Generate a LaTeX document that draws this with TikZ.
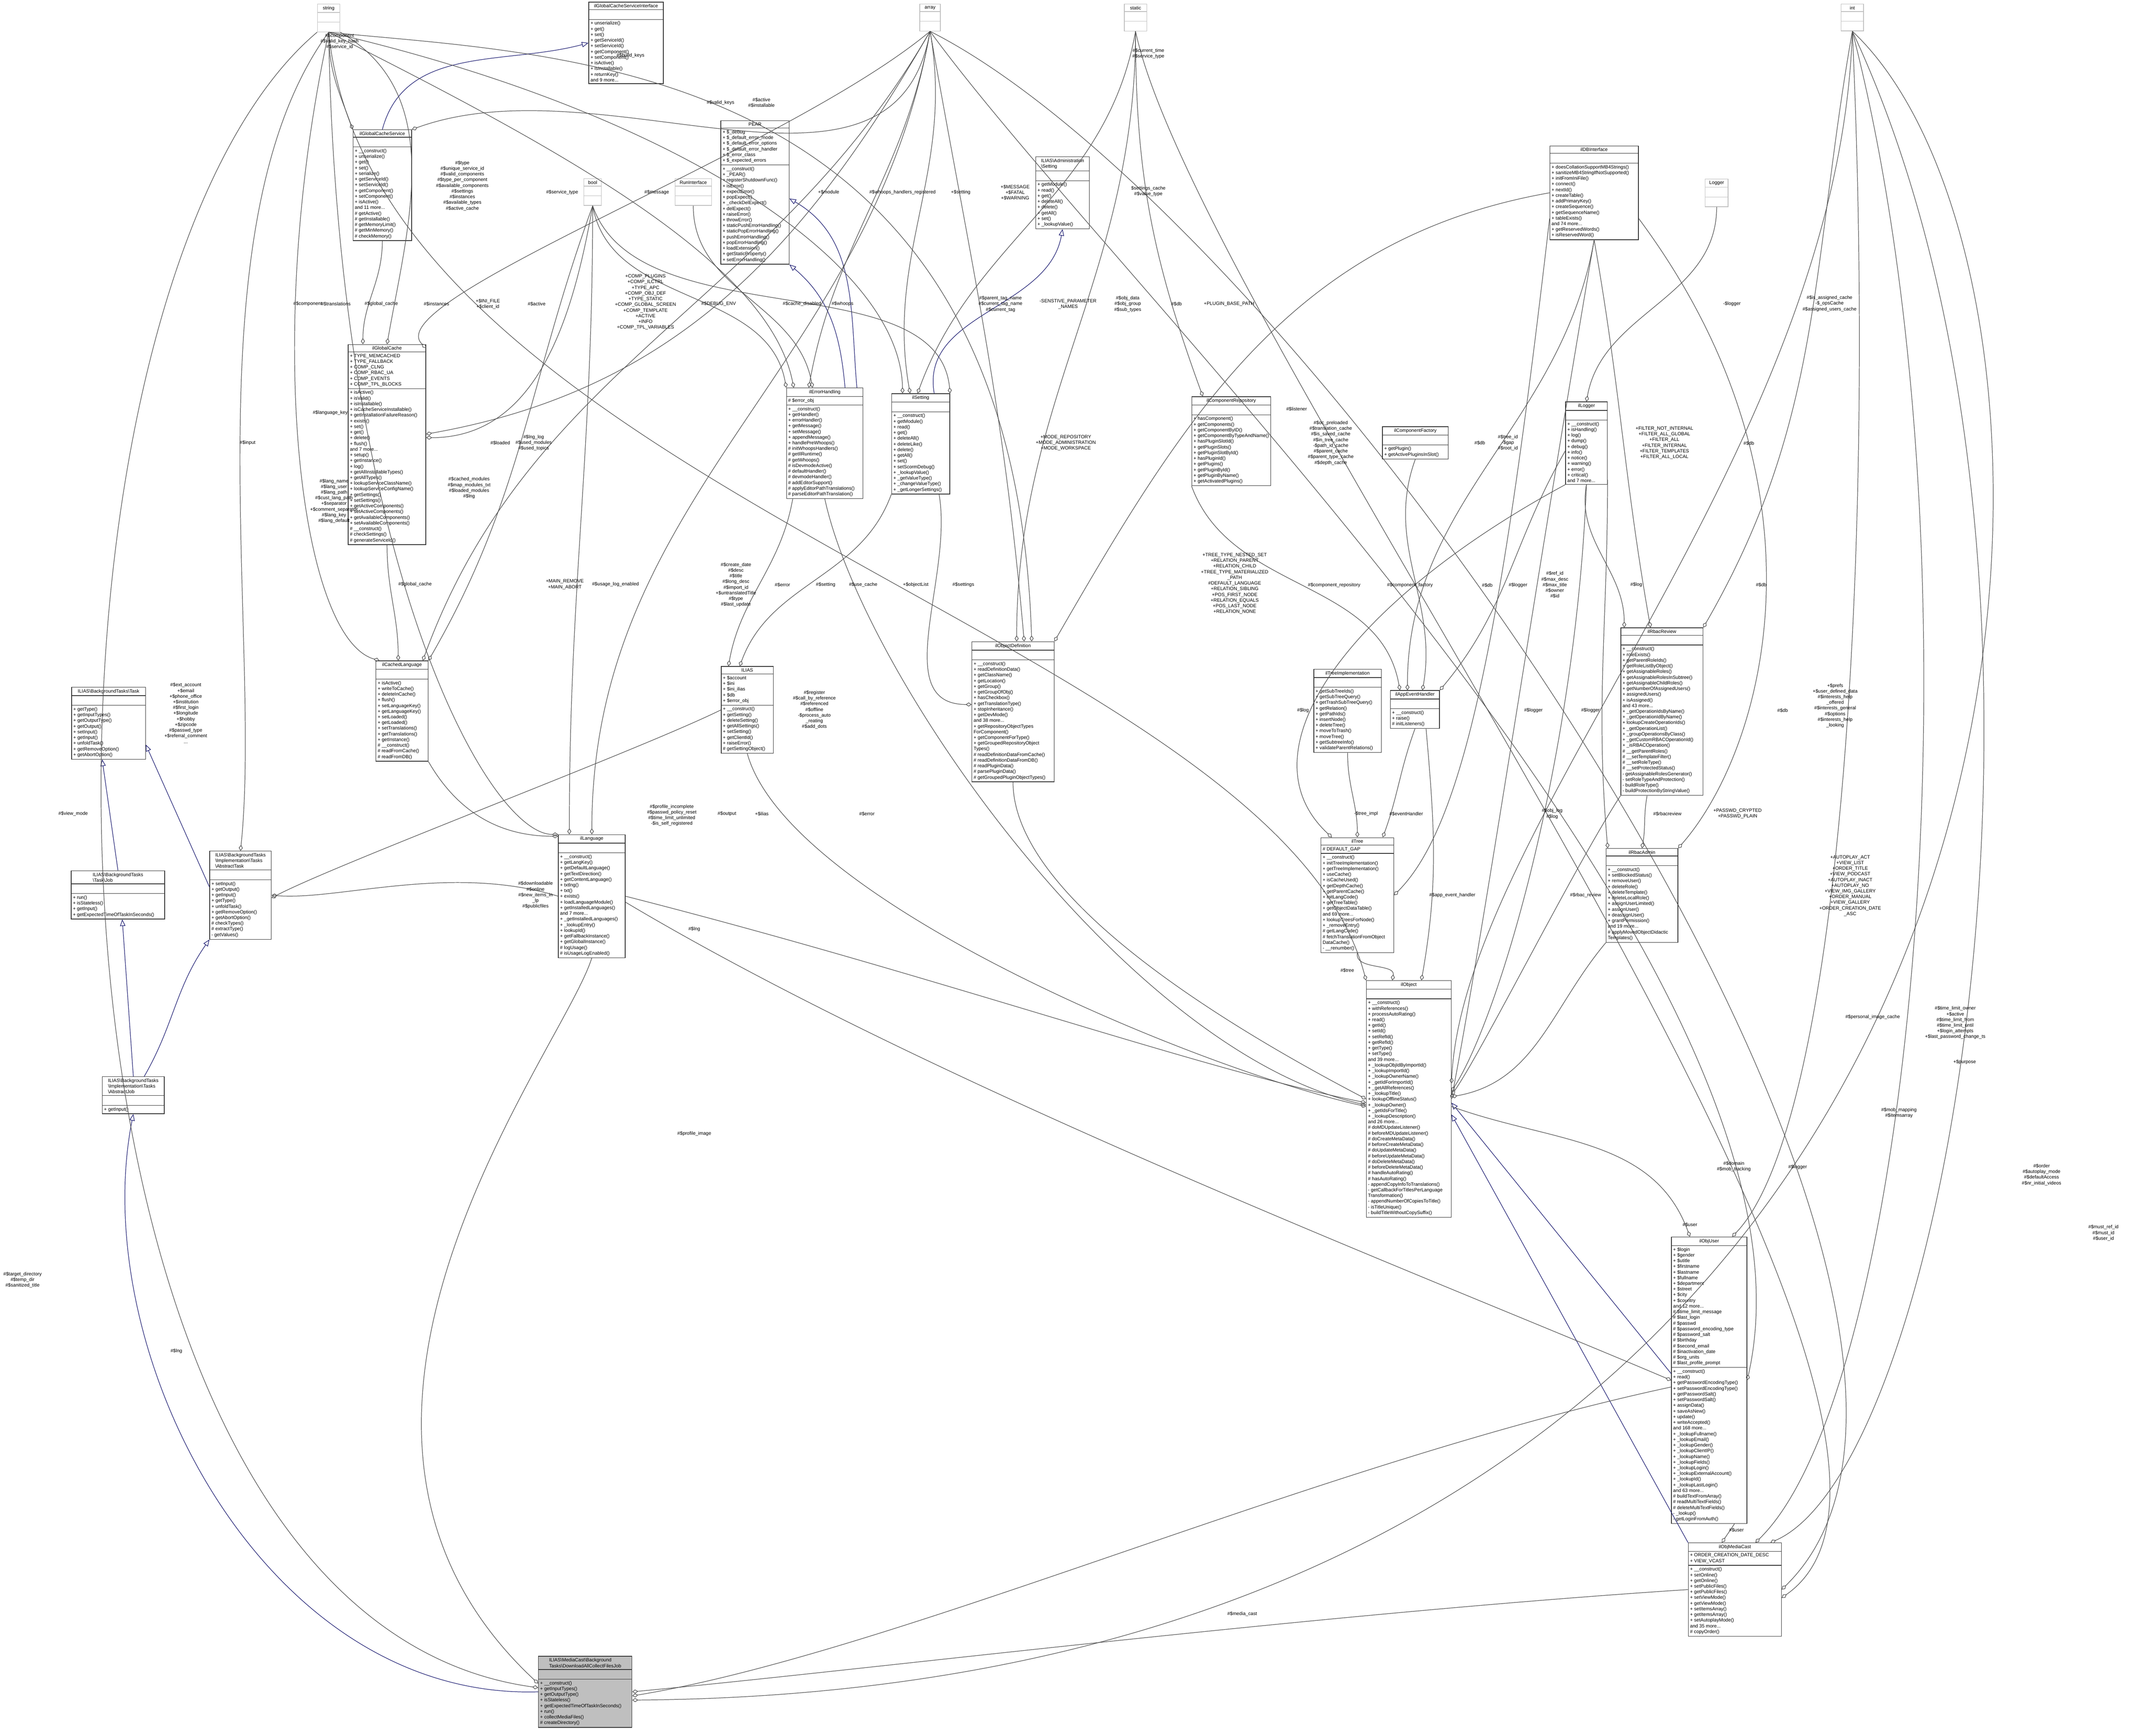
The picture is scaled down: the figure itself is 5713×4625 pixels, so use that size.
\documentclass[tikz,border=0pt]{standalone}
\usepackage{fontspec}
\setmainfont{Liberation Sans}
\usetikzlibrary{shapes.multipart,arrows.meta,calc}
\newcommand\fsz{\fontsize{3.6}{4.3}\selectfont}
\newcommand\bs{\textbackslash}
\begin{document}
\begin{tikzpicture}[x=0.01cm,y=-0.01cm,
  cls/.style={draw=black!80, line width=0.45pt, rectangle split, rectangle split parts=3,
    rectangle split part align={center,left,left}, align=left, font=\fsz,
    inner sep=1.3pt, anchor=north west, fill=white, minimum width=#1*0.01cm},
  ext/.style={cls=#1, draw=black!25},
  mainc/.style={cls=#1, fill=black!25},
  agg/.style={draw=black!70, line width=0.4pt, -{Diamond[open,length=4.5pt,width=3pt]}},
  inh/.style={draw=MidnightBlue, line width=0.4pt, -{Triangle[open,length=5pt,width=4pt]}},
  lbl/.style={font=\fsz, align=center, inner sep=0pt}]
\definecolor{MidnightBlue}{HTML}{191970}
\useasboundingbox (0,0) rectangle (5713,4625);
\fill[white] (0,0) rectangle (5713,4625);

% ---------- classes ----------
\node[ext=60] (S) at (845,10) {string\nodepart{two}\strut\nodepart{three}\strut};
\node[ext=55] (A) at (2450,10) {array\nodepart{two}\strut\nodepart{three}\strut};
\node[ext=60] (ST) at (2995,10) {static\nodepart{two}\strut\nodepart{three}\strut};
\node[ext=60] (I) at (4905,10) {int\nodepart{two}\strut\nodepart{three}\strut};
\node[ext=47] (B) at (1555,475) {bool\nodepart{two}\strut\nodepart{three}\strut};
\node[ext=97] (RI) at (1798,475) {RunInterface\nodepart{two}\strut\nodepart{three}\strut};
\node[ext=61] (LG) at (4543,476) {Logger\nodepart{two}\strut\nodepart{three}\strut};

\node[cls=199] (GCSI) at (1568,5) {ilGlobalCacheServiceInterface\nodepart{two}\strut\nodepart{three}+ unserialize()\\+ get()\\+ set()\\+ getServiceId()\\+ setServiceId()\\+ getComponent()\\+ setComponent()\\+ isActive()\\+ isInstallable()\\+ returnKey()\\and 9 more...};

\node[cls=156] (GCS) at (940,345) {ilGlobalCacheService\nodepart{two}\strut\nodepart{three}+ \_\_construct()\\+ unserialize()\\+ get()\\+ set()\\+ serialize()\\+ getServiceId()\\+ setServiceId()\\+ getComponent()\\+ setComponent()\\+ isActive()\\and 11 more...\\\# getActive()\\\# getInstallable()\\\# getMemoryLimit()\\\# getMinMemory()\\\# checkMemory()};

\node[cls=182] (PEAR) at (1920,321) {PEAR\nodepart{two}+ \$\_debug\\+ \$\_default\_error\_mode\\+ \$\_default\_error\_options\\+ \$\_default\_error\_handler\\+ \$\_error\_class\\+ \$\_expected\_errors\nodepart{three}+ \_\_construct()\\+ \_PEAR()\\+ registerShutdownFunc()\\+ isError()\\+ expectError()\\+ popExpect()\\+ \_checkDelExpect()\\+ delExpect()\\+ raiseError()\\+ throwError()\\+ staticPushErrorHandling()\\+ staticPopErrorHandling()\\+ pushErrorHandling()\\+ popErrorHandling()\\+ loadExtension()\\+ getStaticProperty()\\+ setErrorHandling()};

\node[cls=143] (ADS) at (2759,417) {ILIAS\bs Administration\\\bs Setting\nodepart{two}\strut\nodepart{three}+ getModule()\\+ read()\\+ get()\\+ deleteAll()\\+ delete()\\+ getAll()\\+ set()\\+ \_lookupValue()};

\node[cls=236] (DB) at (4129,388) {ilDBInterface\nodepart{two}\strut\nodepart{three}+ doesCollationSupportMB4Strings()\\+ sanitizeMB4StringIfNotSupported()\\+ initFromIniFile()\\+ connect()\\+ nextId()\\+ createTable()\\+ addPrimaryKey()\\+ createSequence()\\+ getSequenceName()\\+ tableExists()\\and 74 more...\\+ getReservedWords()\\+ isReservedWord()};

\node[cls=207] (GC) at (927,917) {ilGlobalCache\nodepart{two}+ TYPE\_MEMCACHED\\+ TYPE\_FALLBACK\\+ COMP\_CLNG\\+ COMP\_RBAC\_UA\\+ COMP\_EVENTS\\+ COMP\_TPL\_BLOCKS\nodepart{three}+ isActive()\\+ isValid()\\+ isInstallable()\\+ isCacheServiceInstallable()\\+ getInstallationFailureReason()\\+ exists()\\+ set()\\+ get()\\+ delete()\\+ flush()\\and 7 more...\\+ setup()\\+ getInstance()\\+ log()\\+ getAllInstallableTypes()\\+ getAllTypes()\\+ lookupServiceClassName()\\+ lookupServiceConfigName()\\+ getSettings()\\+ setSettings()\\+ getActiveComponents()\\+ setActiveComponents()\\+ getAvailableComponents()\\+ setAvailableComponents()\\\# \_\_construct()\\\# checkSettings()\\\# generateServiceId()};

\node[cls=204] (EH) at (2095,1033) {ilErrorHandling\nodepart{two}\# \$error\_obj\nodepart{three}+ \_\_construct()\\+ getHandler()\\+ errorHandler()\\+ getMessage()\\+ setMessage()\\+ appendMessage()\\+ handlePreWhoops()\\\# initWhoopsHandlers()\\\# getIlRuntime()\\\# getWhoops()\\\# isDevmodeActive()\\\# defaultHandler()\\\# devmodeHandler()\\\# addEditorSupport()\\\# applyEditorPathTranslations()\\\# parseEditorPathTranslation()};

\node[cls=155] (SET) at (2375,1048) {ilSetting\nodepart{two}\strut\nodepart{three}+ \_\_construct()\\+ getModule()\\+ read()\\+ get()\\+ deleteAll()\\+ deleteLike()\\+ delete()\\+ getAll()\\+ set()\\+ setScormDebug()\\+ \_lookupValue()\\+ \_getValueType()\\+ \_changeValueType()\\+ \_getLongerSettings()};

\node[cls=208] (CR) at (3175,1056) {ilComponentRepository\nodepart{two}\strut\nodepart{three}+ hasComponent()\\+ getComponents()\\+ getComponentByID()\\+ getComponentByTypeAndName()\\+ hasPluginSlotId()\\+ getPluginSlots()\\+ getPluginSlotById()\\+ hasPluginId()\\+ getPlugins()\\+ getPluginById()\\+ getPluginByName()\\+ getActivatedPlugins()};

\node[cls=175] (CF) at (3683,1136) {ilComponentFactory\nodepart{two}\strut\nodepart{three}+ getPlugin()\\+ getActivePluginsInSlot()};

\node[cls=111] (LOG) at (4171,1070) {ilLogger\nodepart{two}\strut\nodepart{three}+ \_\_construct()\\+ isHandling()\\+ log()\\+ dump()\\+ debug()\\+ info()\\+ notice()\\+ warning()\\+ error()\\+ critical()\\and 7 more...};

\node[cls=139] (CL) at (1001,1760) {ilCachedLanguage\nodepart{two}\strut\nodepart{three}+ isActive()\\+ writeToCache()\\+ deleteInCache()\\+ flush()\\+ setLanguageKey()\\+ getLanguageKey()\\+ setLoaded()\\+ getLoaded()\\+ setTranslations()\\+ getTranslations()\\+ getInstance()\\\# \_\_construct()\\\# readFromCache()\\\# readFromDB()};

\node[cls=197] (T) at (190,1830) {ILIAS\bs BackgroundTasks\bs Task\nodepart{two}\strut\nodepart{three}+ getType()\\+ getInputTypes()\\+ getOutputType()\\+ getOutput()\\+ setInput()\\+ getInput()\\+ unfoldTask()\\+ getRemoveOption()\\+ getAbortOption()};

\node[cls=139] (IL) at (1921,1775) {ILIAS\nodepart{two}+ \$account\\+ \$ini\\+ \$ini\_ilias\\+ \$db\\+ \$error\_obj\nodepart{three}+ \_\_construct()\\+ getSetting()\\+ deleteSetting()\\+ getAllSettings()\\+ setSetting()\\+ getClientId()\\+ raiseError()\\\# getSettingObject()};

\node[cls=219] (OD) at (2589,1709) {ilObjectDefinition\nodepart{two}\strut\nodepart{three}+ \_\_construct()\\+ readDefinitionData()\\+ getClassName()\\+ getLocation()\\+ getGroup()\\+ getGroupOfObj()\\+ hasCheckbox()\\+ getTranslationType()\\+ stopInheritance()\\+ getDevMode()\\and 38 more...\\+ getRepositoryObjectTypes\\ForComponent()\\+ getComponentForType()\\+ getGroupedRepositoryObject\\Types()\\\# readDefinitionDataFromCache()\\\# readDefinitionDataFromDB()\\\# readPluginData()\\\# parsePluginData()\\\# getGroupedPluginObjectTypes()};

\node[cls=219] (RR) at (4318,1672) {ilRbacReview\nodepart{two}\strut\nodepart{three}+ \_\_construct()\\+ roleExists()\\+ getParentRoleIds()\\+ getRoleListByObject()\\+ getAssignableRoles()\\+ getAssignableRolesInSubtree()\\+ getAssignableChildRoles()\\+ getNumberOfAssignedUsers()\\+ assignedUsers()\\+ isAssigned()\\and 43 more...\\+ \_getOperationIdsByName()\\+ \_getOperationIdByName()\\+ lookupCreateOperationIds()\\+ \_getOperationList()\\+ \_groupOperationsByClass()\\+ \_getCustomRBACOperationId()\\+ \_isRBACOperation()\\\# \_\_getParentRoles()\\\# \_\_setTemplateFilter()\\\# \_\_setRoleType()\\\# \_\_setProtectedStatus()\\- getAssignableRolesGenerator()\\- setRoleTypeAndProtection()\\- buildRoleType()\\- buildProtectionByStringValue()};

\node[cls=180] (TI) at (3500,1782) {ilTreeImplementation\nodepart{two}\strut\nodepart{three}+ getSubTreeIds()\\+ getSubTreeQuery()\\+ getTrashSubTreeQuery()\\+ getRelation()\\+ getPathIds()\\+ insertNode()\\+ deleteTree()\\+ moveToTrash()\\+ moveTree()\\+ getSubtreeInfo()\\+ validateParentRelations()};

\node[cls=131] (AEH) at (3704,1839) {ilAppEventHandler\nodepart{two}\strut\nodepart{three}+ \_\_construct()\\+ raise()\\\# initListeners()};

\node[cls=178] (LANG) at (1487,2223) {ilLanguage\nodepart{two}\strut\nodepart{three}+ \_\_construct()\\+ getLangKey()\\+ getDefaultLanguage()\\+ getTextDirection()\\+ getContentLanguage()\\+ txtlng()\\+ txt()\\+ exists()\\+ loadLanguageModule()\\+ getInstalledLanguages()\\and 7 more...\\+ \_getInstalledLanguages()\\+ \_lookupEntry()\\+ lookupId()\\+ getFallbackInstance()\\+ getGlobalInstance()\\\# logUsage()\\\# isUsageLogEnabled()};

\node[cls=194] (TR) at (3519,2231) {ilTree\nodepart{two}\# DEFAULT\_GAP\nodepart{three}+ \_\_construct()\\+ initTreeImplementation()\\+ getTreeImplementation()\\+ useCache()\\+ isCacheUsed()\\+ getDepthCache()\\+ getParentCache()\\+ initLangCode()\\+ getTreeTable()\\+ getObjectDataTable()\\and 69 more...\\+ lookupTreesForNode()\\+ \_removeEntry()\\\# getLangCode()\\\# fetchTranslationFromObject\\DataCache()\\- \_\_renumber()};

\node[cls=191] (RA) at (4279,2260) {ilRbacAdmin\nodepart{two}\strut\nodepart{three}+ \_\_construct()\\+ setBlockedStatus()\\+ removeUser()\\+ deleteRole()\\+ deleteTemplate()\\+ deleteLocalRole()\\+ assignUserLimited()\\+ assignUser()\\+ deassignUser()\\+ grantPermission()\\and 19 more...\\\# applyMovedObjectDidactic\\Templates()};

\node[cls=164] (AT) at (558,2267) {ILIAS\bs BackgroundTasks\\\bs Implementation\bs Tasks\\\bs AbstractTask\nodepart{two}\strut\nodepart{three}+ setInput()\\+ getOutput()\\+ getInput()\\+ getType()\\+ unfoldTask()\\+ getRemoveOption()\\+ getAbortOption()\\\# checkTypes()\\\# extractType()\\- getValues()};

\node[cls=249] (J) at (189,2319) {ILIAS\bs BackgroundTasks\\\bs Task\bs Job\nodepart{two}\strut\nodepart{three}+ run()\\+ isStateless()\\+ getInput()\\+ getExpectedTimeOfTaskInSeconds()};

\node[cls=165] (AJ) at (272,2868) {ILIAS\bs BackgroundTasks\\\bs Implementation\bs Tasks\\\bs AbstractJob\nodepart{two}\strut\nodepart{three}+ getInput()};

\node[cls=226] (OB) at (3640,2612) {ilObject\nodepart{two}\strut\nodepart{three}+ \_\_construct()\\+ withReferences()\\+ processAutoRating()\\+ read()\\+ getId()\\+ setId()\\+ setRefId()\\+ getRefId()\\+ getType()\\+ setType()\\and 39 more...\\+ \_lookupObjIdByImportId()\\+ \_lookupImportId()\\+ \_lookupOwnerName()\\+ \_getIdForImportId()\\+ \_getAllReferences()\\+ \_lookupTitle()\\+ lookupOfflineStatus()\\+ \_lookupOwner()\\+ \_getIdsForTitle()\\+ \_lookupDescription()\\and 26 more...\\\# doMDUpdateListener()\\\# beforeMDUpdateListener()\\\# doCreateMetaData()\\\# beforeCreateMetaData()\\\# doUpdateMetaData()\\\# beforeUpdateMetaData()\\\# doDeleteMetaData()\\\# beforeDeleteMetaData()\\\# handleAutoRating()\\\# hasAutoRating()\\- appendCopyInfoToTranslations()\\- getCallbackForTitlesPerLanguage\\Transformation()\\- appendNumberOfCopiesToTitle()\\- isTitleUnique()\\- buildTitleWithoutCopySuffix()};

\node[cls=201] (OU) at (4453,3295) {ilObjUser\nodepart{two}+ \$login\\+ \$gender\\+ \$utitle\\+ \$firstname\\+ \$lastname\\+ \$fullname\\+ \$department\\+ \$street\\+ \$city\\+ \$country\\and 12 more...\\\# \$time\_limit\_message\\\# \$last\_login\\\# \$passwd\\\# \$password\_encoding\_type\\\# \$password\_salt\\\# \$birthday\\\# \$second\_email\\\# \$inactivation\_date\\\# \$org\_units\\\# \$last\_profile\_prompt\nodepart{three}+ \_\_construct()\\+ read()\\+ getPasswordEncodingType()\\+ setPasswordEncodingType()\\+ getPasswordSalt()\\+ setPasswordSalt()\\+ assignData()\\+ saveAsNew()\\+ update()\\+ writeAccepted()\\and 168 more...\\+ \_lookupFullname()\\+ \_lookupEmail()\\+ \_lookupGender()\\+ \_lookupClientIP()\\+ \_lookupName()\\+ \_lookupFields()\\+ \_lookupLogin()\\+ \_lookupExternalAccount()\\+ \_lookupId()\\+ \_lookupLastLogin()\\and 63 more...\\\# buildTextFromArray()\\\# readMultiTextFields()\\\# deleteMultiTextFields()\\- \_lookup()\\- getLoginFromAuth()};

\node[cls=248] (MC) at (4498,4110) {ilObjMediaCast\nodepart{two}+ ORDER\_CREATION\_DATE\_DESC\\+ VIEW\_VCAST\nodepart{three}+ \_\_construct()\\+ setOnline()\\+ getOnline()\\+ setPublicFiles()\\+ getPublicFiles()\\+ setViewMode()\\+ getViewMode()\\+ setItemsArray()\\+ getItemsArray()\\+ setAutoplayMode()\\and 35 more...\\\# copyOrder()};

\node[mainc=249] (M) at (1434,4412) {ILIAS\bs MediaCast\bs Background\\Tasks\bs DownloadAllCollectFilesJob\nodepart{two}\strut\nodepart{three}+ \_\_construct()\\+ getInputTypes()\\+ getOutputType()\\+ isStateless()\\+ getExpectedTimeOfTaskInSeconds()\\+ run()\\+ collectMediaFiles()\\\# createDirectory()};

% ---------- inheritance ----------
\draw[inh] (GCS.north) to[out=75,in=195] (GCSI.west);
\draw[inh] (EH.70) to[out=95,in=-40] (PEAR.south east);
\draw[inh] (EH.60) to[out=95,in=-30] (PEAR.-10);
\draw[inh] (SET.75) to[out=100,in=-100] (ADS.south);
\draw[inh] (J.north) -- (T.-100);
\draw[inh] (AT.165) -- (T.-30);
\draw[inh] (AJ.north) -- (J.-80);
\draw[inh] (AJ.60) to[out=60,in=-125] (AT.south west);
\draw[inh] (M.west) .. controls (700,4530) and (230,3600) .. (AJ.south);
\draw[inh] (OU.170) -- (OB.-5);
\draw[inh] (MC.north west) -- (OB.-20);

% ---------- aggregations ----------
\draw[agg] (S.south) to[out=-90,in=110] (GCS.north west);
\draw[agg] (A.south) to[out=-100,in=20] (GCS.north east);
\draw[agg] (S.south east) to[out=-30,in=80] (GC.north);
\draw[agg] (GCS.south) to[out=-90,in=90] ([xshift=0.4cm]GC.north west);
\draw[agg] (A.south) to[out=-120,in=10] (GC.15);
\draw[agg] (B.south) to[out=-100,in=0] (GC.10);
\draw[agg] (GC.south) to[out=-90,in=90] ([xshift=0.6cm]CL.north west);
\draw[agg] (S.south) .. controls (700,900) and (800,1700) .. ([xshift=0.1cm]CL.north west);
\draw[agg] (B.south) to[out=-110,in=60] (CL.north east);
\draw[agg] (A.south) to[out=-120,in=70] ([xshift=-0.15cm]CL.north east);
\draw[agg] (CL.south east) to[out=-60,in=180] ([yshift=-0.05cm]LANG.north west);
\draw[agg] (S.south) .. controls (900,1500) and (1300,2225) .. (LANG.north west);
\draw[agg] (B.south) to[out=-90,in=90] ([xshift=0.3cm]LANG.north west);
\draw[agg] (A.south) to[out=-100,in=90] ([xshift=0.9cm]LANG.north west);
\draw[agg] (B.south) to[out=-80,in=100] (EH.north west);
\draw[agg] (S.south) .. controls (1500,400) and (2050,700) .. ([xshift=0.2cm]EH.north west);
\draw[agg] (A.south) to[out=-100,in=80] ([xshift=0.6cm]EH.north west);
\draw[agg] (RI.south) to[out=-90,in=100] ([xshift=0.7cm]EH.north west);
\draw[agg] (A.south) to[out=-80,in=100] ([xshift=0.5cm]SET.north west);
\draw[agg] (S.south) .. controls (1800,300) and (2400,700) .. ([xshift=0.3cm]SET.north west);
\draw[agg] (ST.south) to[out=-100,in=70] ([xshift=0.7cm]SET.north west);
\draw[agg] (B.south) .. controls (1700,900) and (2500,700) .. (SET.north east);
\draw[agg] (EH.-120) to[out=-100,in=80] ([xshift=0.2cm]IL.north west);
\draw[agg] (SET.south west) to[out=-110,in=70] ([xshift=0.5cm]IL.north west);
\draw[agg] (SET.-70) to[out=-80,in=180] (OD.170);
\draw[agg] (ST.south) to[out=-90,in=90] ([xshift=1.2cm]OD.north west);
\draw[agg] (A.south) to[out=-80,in=95] ([xshift=1.4cm]OD.north west);
\draw[agg] (S.south) .. controls (1500,150) and (2700,150) .. ([xshift=1.6cm]OD.north west);
\draw[agg] (DB.west) to[out=190,in=60] (OD.north east);
\draw[agg] (ST.south) to[out=-90,in=110] ([xshift=0.3cm]CR.north west);
\draw[agg] (LG.south) to[out=-90,in=80] (LOG.north);
\draw[agg] (CR.south west) to[out=-70,in=100] ([xshift=-0.4cm]AEH.north);
\draw[agg] (CF.south) to[out=-110,in=80] ([xshift=0.2cm]AEH.north);
\draw[agg] (DB.south) to[out=-100,in=90] ([xshift=-0.2cm]AEH.north);
\draw[agg] (LOG.200) to[out=-120,in=50] (AEH.north east);
\draw[agg] (TI.south) to[out=-90,in=90] (TR.north);
\draw[agg] (AEH.south) to[out=-110,in=70] ([xshift=-0.3cm]TR.north east);
\draw[agg] (LOG.south west) .. controls (3600,1600) and (3300,2000) .. ([xshift=0.3cm]TR.north west);
\draw[agg] (DB.-150) .. controls (4000,1700) and (3900,2200) .. (TR.east);
\draw[agg] (TR.south) to[out=-100,in=80] ([xshift=0.7cm]OB.north west);
\draw[agg] (AEH.-60) to[out=-85,in=80] ([xshift=-0.8cm]OB.north east);
\draw[agg] (DB.south) .. controls (4100,1500) and (3950,2500) .. (OB.east);
\draw[agg] (LOG.south) .. controls (4200,2000) and (4000,2700) .. (OB.10);
\draw[agg] (RR.south west) .. controls (4200,2300) and (3950,2800) .. (OB.5);
\draw[agg] (RA.south west) to[out=-130,in=10] (OB.3);
\draw[agg] (OD.south) .. controls (2700,2400) and (3300,2750) .. (OB.180);
\draw[agg] (LANG.east) .. controls (2500,2600) and (3200,2850) .. (OB.185);
\draw[agg] (EH.south) .. controls (2300,1800) and (3000,2800) .. (OB.188);
\draw[agg] (IL.south) .. controls (2100,2400) and (3200,2850) .. (OB.190);
\draw[agg] (S.south) .. controls (1000,1300) and (3400,1700) .. (OB.north west);
\draw[agg] (I.south) .. controls (4900,1200) and (3900,2200) .. (OB.20);
\draw[agg] (LOG.south) to[out=-100,in=90] ([xshift=0.1cm]RR.north west);
\draw[agg] (DB.south) to[out=-80,in=100] ([xshift=0.8cm]RR.north west);
\draw[agg] (I.south) to[out=-100,in=60] (RR.north east);
\draw[agg] (RR.-100) to[out=-100,in=80] (RA.north);
\draw[agg] (LOG.-60) to[out=-90,in=95] ([xshift=0.05cm]RA.north west);
\draw[agg] (DB.-30) .. controls (4900,1300) and (4700,2000) .. (RA.north east);
\draw[agg] (OB.-10) to[out=-20,in=110] ([xshift=0.5cm]OU.north west);
\draw[agg] (I.south) .. controls (5000,1500) and (4900,3000) .. ([xshift=-0.4cm]OU.north east);
\draw[agg] (A.south) .. controls (3000,800) and (4900,2600) .. (OU.east);
\draw[agg] (LANG.-10) .. controls (2500,2900) and (3800,3400) .. (OU.west);
\draw[agg] (OU.-80) -- ([xshift=0.9cm]MC.north west);
\draw[agg] (I.south) .. controls (5300,1500) and (5100,3700) .. ([xshift=-0.7cm]MC.north east);
\draw[agg] (I.south) .. controls (5600,1500) and (5200,3900) .. ([xshift=-0.3cm]MC.north east);
\draw[agg] (A.south) .. controls (3500,600) and (5500,3500) .. (MC.east);
\draw[agg] (ST.south) .. controls (3200,900) and (5400,3800) .. (MC.-10);
\draw[agg] (MC.west) .. controls (3500,4300) and (2300,4450) .. (M.east);
\draw[agg] (OU.-170) .. controls (3500,3900) and (2400,4400) .. (M.-5);
\draw[agg] (LANG.south) .. controls (1500,2800) and (700,3800) .. (M.170);
\draw[agg] (S.south west) .. controls (0,800) and (0,4300) .. (M.175);
\draw[agg] (I.south) .. controls (5700,800) and (5600,4500) .. (M.-10);
\draw[agg] (S.south) .. controls (500,600) and (700,1700) .. (AT.north);
\draw[agg] (LANG.west) .. controls (1200,2300) and (900,2400) .. (AT.east);
\draw[agg] (IL.west) .. controls (1700,2000) and (900,2300) .. (AT.-5);
\draw[agg] (A.south) .. controls (2100,400) and (1000,800) .. ([yshift=-0.1cm]GC.north east);

% ---------- labels ----------
\node[lbl] (l1) at (905,110) {\#\$component\\\#\$valid\_key\_hash\\\#\$service\_id};
\node[lbl] (l2) at (1680,148) {\#\$build\_keys};
\node[lbl] (l3) at (1920,274) {\#\$valid\_keys};
\node[lbl] (l4) at (2029,273) {\#\$active\\\#\$installable};
\node[lbl] (l5) at (3060,143) {\#\$current\_time\\\#\$service\_type};
\node[lbl] (l6) at (1498,512) {\#\$service\_type};
\node[lbl] (l7) at (1750,512) {\#\$message};
\node[lbl] (l8) at (2208,512) {+\$module};
\node[lbl] (l9) at (2405,513) {\#\$whoops\_handlers\_registered};
\node[lbl] (l10) at (2560,513) {+\$setting};
\node[lbl] (l11) at (2705,513) {+\$MESSAGE\\+\$FATAL\\+\$WARNING};
\node[lbl] (l12) at (3060,510) {\$settings\_cache\\\#\$value\_type};
\node[lbl] (l13) at (1232,495) {\#\$type\\\#\$unique\_service\_id\\\#\$valid\_components\\\#\$type\_per\_component\\\#\$available\_components\\\#\$settings\\\#\$instances\\\#\$available\_types\\\#\$active\_cache};
\node[lbl] (l14) at (820,810) {\#\$component};
\node[lbl] (l15) at (895,810) {\#\$translations};
\node[lbl] (l16) at (1016,810) {\#\$global\_cache};
\node[lbl] (l17) at (1163,810) {\#\$instances};
\node[lbl] (l18) at (1300,810) {+\$INI\_FILE\\+\$client\_id};
\node[lbl] (l19) at (1430,810) {\#\$active};
\node[lbl] (l20) at (1720,805) {+COMP\_PLUGINS\\+COMP\_ILCTRL\\+TYPE\_APC\\+COMP\_OBJ\_DEF\\+TYPE\_STATIC\\+COMP\_GLOBAL\_SCREEN\\+COMP\_TEMPLATE\\+ACTIVE\\+INFO\\+COMP\_TPL\_VARIABLES};
\node[lbl] (l21) at (1915,810) {\#\$DEBUG\_ENV};
\node[lbl] (l22) at (2137,810) {\#\$cache\_disabled};
\node[lbl] (l23) at (2245,810) {\#\$whoops};
\node[lbl] (l24) at (2666,810) {\#\$parent\_tag\_name\\\#\$current\_tag\_name\\\#\$current\_tag};
\node[lbl] (l25) at (2846,810) {-SENSTIVE\_PARAMETER\\\_NAMES};
\node[lbl] (l26) at (3005,810) {\#\$obj\_data\\\#\$obj\_group\\\#\$sub\_types};
\node[lbl] (l27) at (3135,810) {\#\$db};
\node[lbl] (l28) at (3275,810) {+PLUGIN\_BASE\_PATH};
\node[lbl] (l29) at (4875,809) {\#\$is\_assigned\_cache\\-\$\_opsCache\\\#\$assigned\_users\_cache};
\node[lbl] (l30) at (4615,810) {-\$logger};
\node[lbl] (l31) at (4435,1180) {+FILTER\_NOT\_INTERNAL\\+FILTER\_ALL\_GLOBAL\\+FILTER\_ALL\\+FILTER\_INTERNAL\\+FILTER\_TEMPLATES\\+FILTER\_ALL\_LOCAL};
\node[lbl] (l32) at (4660,1181) {\#\$db};
\node[lbl] (l33) at (880,1100) {\#\$language\_key};
\node[lbl] (l34) at (660,1180) {\#\$input};
\node[lbl] (l35) at (1333,1180) {\#\$loaded};
\node[lbl] (l36) at (1422,1180) {\#\$lng\_log\\\#\$used\_modules\\\#\$used\_topics};
\node[lbl] (l37) at (1250,1300) {\#\$cached\_modules\\\#\$map\_modules\_txt\\\#\$loaded\_modules\\\#\$lng};
\node[lbl] (l38) at (890,1335) {\#\$lang\_name\\\#\$lang\_user\\\#\$lang\_path\\\#\$cust\_lang\_path\\+\$separator\\+\$comment\_separator\\\#\$lang\_key\\\#\$lang\_default};
\node[lbl] (l39) at (1106,1557) {\#\$global\_cache};
\node[lbl] (l40) at (1505,1557) {+MAIN\_REMOVE\\+MAIN\_ABORT};
\node[lbl] (l41) at (1640,1557) {\#\$usage\_log\_enabled};
\node[lbl] (l42) at (1961,1558) {\#\$create\_date\\\#\$desc\\\#\$title\\\#\$long\_desc\\\#\$import\_id\\+\$untranslatedTitle\\\#\$type\\\#\$last\_update};
\node[lbl] (l43) at (2085,1558) {\#\$error};
\node[lbl] (l44) at (2200,1558) {\#\$setting};
\node[lbl] (l45) at (2300,1558) {\#\$use\_cache};
\node[lbl] (l46) at (2440,1558) {+\$objectList};
\node[lbl] (l47) at (2567,1558) {\#\$settings};
\node[lbl] (l48) at (2840,1180) {+MODE\_REPOSITORY\\+MODE\_ADMINISTRATION\\+MODE\_WORKSPACE};
\node[lbl] (l49) at (2170,1891) {\#\$register\\\#\$call\_by\_reference\\\#\$referenced\\\#\$offline\\-\$process\_auto\\\_reating\\\#\$add\_dots};
\node[lbl] (l50) at (1937,2168) {\#\$output};
\node[lbl] (l51) at (2030,2168) {+\$ilias};
\node[lbl] (l52) at (2310,2168) {\#\$error};
\node[lbl] (l53) at (3546,1180) {\#\$oc\_preloaded\\\#\$translation\_cache\\\#\$is\_saved\_cache\\\#\$in\_tree\_cache\\-\$path\_id\_cache\\\#\$parent\_cache\\\#\$parent\_type\_cache\\\#\$depth\_cache};
\node[lbl] (l54) at (3943,1180) {\#\$db};
\node[lbl] (l55) at (4018,1180) {\#\$tree\_id\\-\$gap\\\#\$root\_id};
\node[lbl] (l56) at (3455,1090) {\#\$listener};
\node[lbl] (l57) at (3290,1555) {+TREE\_TYPE\_NESTED\_SET\\+RELATION\_PARENT\\+RELATION\_CHILD\\+TREE\_TYPE\_MATERIALIZED\\\_PATH\\\#DEFAULT\_LANGUAGE\\+RELATION\_SIBLING\\+POS\_FIRST\_NODE\\+RELATION\_EQUALS\\+POS\_LAST\_NODE\\+RELATION\_NONE};
\node[lbl] (l58) at (3555,1559) {\#\$component\_repository};
\node[lbl] (l59) at (3757,1559) {\#\$component\_factory};
\node[lbl] (l60) at (3963,1559) {\#\$db};
\node[lbl] (l61) at (4045,1559) {\#\$logger};
\node[lbl] (l62) at (4143,1558) {\#\$ref\_id\\\#\$max\_desc\\\#\$max\_title\\\#\$owner\\\#\$id};
\node[lbl] (l63) at (4360,1558) {\#\$log};
\node[lbl] (l64) at (4693,1558) {\#\$db};
\node[lbl] (l65) at (3472,1893) {\#\$log};
\node[lbl] (l66) at (4086,1893) {\#\$logger};
\node[lbl] (l67) at (4238,1893) {\#\$logger};
\node[lbl] (l68) at (4750,1893) {\#\$db};
\node[lbl] (l69) at (3640,2168) {-\$tree\_impl};
\node[lbl] (l70) at (3747,2168) {\#\$eventHandler};
\node[lbl] (l71) at (4136,2168) {\#\$obj\_log\\\#\$log};
\node[lbl] (l72) at (4443,2168) {\#\$rbacreview};
\node[lbl] (l73) at (4630,2168) {+PASSWD\_CRYPTED\\+PASSWD\_PLAIN};
\node[lbl] (l74) at (3870,2385) {\#\$app\_event\_handler};
\node[lbl] (l75) at (4225,2385) {\#\$rbac\_review};
\node[lbl] (l76) at (4890,1880) {+\$prefs\\+\$user\_defined\_data\\\#\$interests\_help\\\_offered\\\#\$interests\_general\\\#\$options\\\#\$interests\_help\\\_looking};
\node[lbl] (l77) at (4930,2360) {+AUTOPLAY\_ACT\\+VIEW\_LIST\\+ORDER\_TITLE\\+VIEW\_PODCAST\\+AUTOPLAY\_INACT\\+AUTOPLAY\_NO\\+VIEW\_IMG\_GALLERY\\+ORDER\_MANUAL\\+VIEW\_GALLERY\\+ORDER\_CREATION\_DATE\\\_ASC};
\node[lbl] (l78) at (4990,2710) {\#\$personal\_image\_cache};
\node[lbl] (l79) at (5210,2725) {\#\$time\_limit\_owner\\+\$active\\\#\$time\_limit\_from\\\#\$time\_limit\_until\\+\$login\_attempts\\+\$last\_password\_change\_ts};
\node[lbl] (l80) at (5235,2830) {+\$purpose};
\node[lbl] (l81) at (5060,2965) {\#\$mob\_mapping\\\#\$itemsarray};
\node[lbl] (l82) at (4620,3108) {\#\$domain\\\#\$mob\_tracking};
\node[lbl] (l83) at (4790,3110) {\#\$logger};
\node[lbl] (l84) at (5440,3130) {\#\$order\\\#\$autoplay\_mode\\\#\$defaultAccess\\\#\$nr\_initial\_videos};
\node[lbl] (l85) at (5605,3285) {\#\$must\_ref\_id\\\#\$must\_id\\\#\$user\_id};
\node[lbl] (l86) at (4503,3263) {\#\$user};
\node[lbl] (l87) at (4627,4077) {\#\$user};
\node[lbl] (l88) at (3310,4300) {\#\$media\_cast};
\node[lbl] (l89) at (470,3600) {\#\$lng};
\node[lbl] (l90) at (1850,2475) {\#\$lng};
\node[lbl] (l91) at (195,2168) {\#\$view\_mode};
\node[lbl] (l92) at (60,3410) {\#\$target\_directory\\\#\$temp\_dir\\\#\$sanitized\_title};
\node[lbl] (l93) at (1427,2385) {\#\$downloadable\\\#\$online\\\#\$new\_items\_in\\\_lp\\\#\$publicfiles};
\node[lbl] (l94) at (1790,2172) {\#\$profile\_incomplete\\\#\$passwd\_policy\_reset\\\#\$time\_limit\_unlimited\\-\$is\_self\_registered};
\node[lbl] (l95) at (495,1900) {\#\$ext\_account\\+\$email\\+\$phone\_office\\+\$institution\\\#\$first\_login\\+\$longitude\\+\$hobby\\+\$zipcode\\\#\$passwd\_type\\+\$referral\_comment\\...};
\node[lbl] (l96) at (3590,2585) {\#\$tree};
\node[lbl] (l97) at (1850,3020) {\#\$profile\_image};
\end{tikzpicture}
\end{document}
